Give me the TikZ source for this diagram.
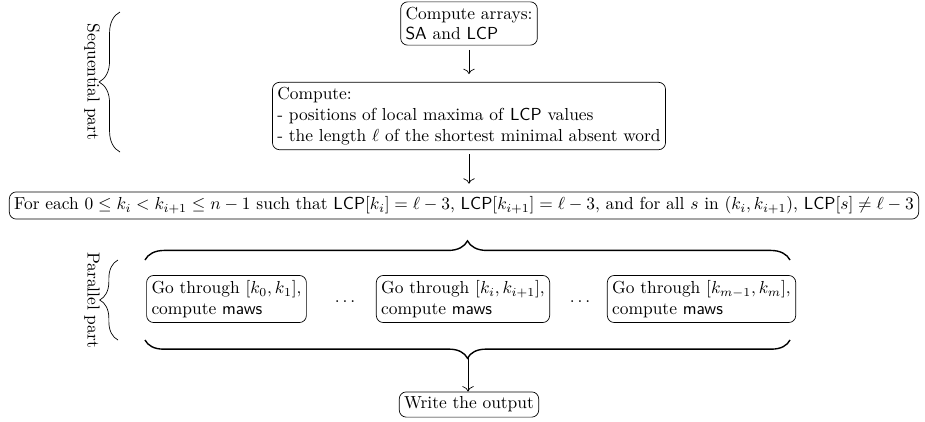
\documentclass[tikz,border=0pt]{standalone}
\usetikzlibrary{decorations.pathreplacing,arrows.meta}
\begin{document}
\begin{tikzpicture}[x=0.5745pt,y=-0.5745pt,
  box/.style={draw,rounded corners=4pt,align=left,inner xsep=2.8pt,inner ysep=2.8pt},
  arr/.style={-{To[scale=1.25]}},
  hbrace/.style={decorate,decoration={brace,amplitude=#1},thick},
  vbrace/.style={decorate,decoration={brace,amplitude=#1}}]
\useasboundingbox (0,0) rectangle (925,421);
\node[box] (b1) at (469,23.5) {Compute arrays:\\\textsf{SA} and \textsf{LCP}};
\node[box] (b2) at (469,116) {Compute:\\- positions of local maxima of \textsf{LCP} values\\- the length $\ell$ of the shortest minimal absent word};
\node[box] (wide) at (464,205.5) {For each $0\le k_i<k_{i+1}\le n-1$ such that \textsf{LCP}$[k_i]=\ell-3$, \textsf{LCP}$[k_{i+1}]=\ell-3$, and for all $s$ in $(k_i,k_{i+1})$, \textsf{LCP}$[s]\ne\ell-3$};
\node[box] (pA) at (226.5,299) {Go through $[k_0,k_1]$,\\compute \textsf{maws}};
\node[box] (pB) at (463,299) {Go through $[k_i,k_{i+1}]$,\\compute \textsf{maws}};
\node[box] (pC) at (701.5,299) {Go through $[k_{m-1},k_m]$,\\compute \textsf{maws}};
\node (d1) at (345,302) {$\dots$};
\node (d2) at (580,302) {$\dots$};
\node[box] (out) at (469,404.5) {Write the output};
\draw[arr,shorten <=2.5pt,shorten >=4.5pt] (b1.south) -- (b2.north);
\draw[arr,shorten <=2.5pt,shorten >=4.5pt] (b2.south) -- (b2.south |- wide.north);
\draw[hbrace=11pt] (145,260) -- (790,260);
\draw[hbrace=10.5pt] (790,340) -- (145,340);
\coordinate (tipB) at (468,358);
\draw[arr] (tipB) -- (tipB |- out.north);
\draw[vbrace=12pt] (120,152) -- (120,12);
\draw[vbrace=10.5pt] (118,340) -- (118,260);
\node[rotate=-90] (seq) at (92,82) {Sequential part};
\node[rotate=-90] (par) at (92,300) {Parallel part};
\end{tikzpicture}
\end{document}
